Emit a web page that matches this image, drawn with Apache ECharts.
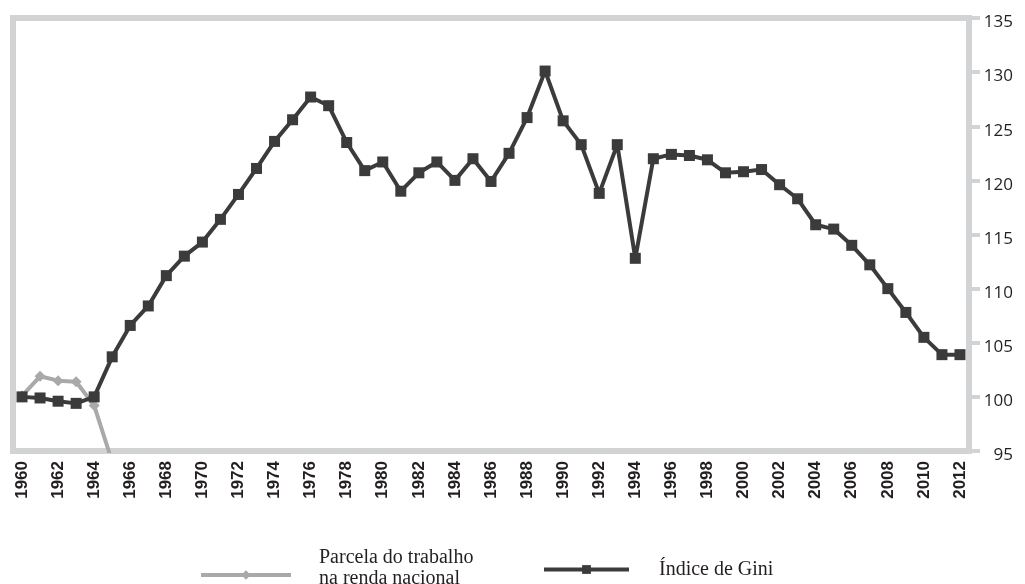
<!DOCTYPE html>
<html lang="pt">

<head>
  <meta charset="UTF-8">
  <title>Gini e parcela do trabalho</title>
  <script src="https://cdn.jsdelivr.net/npm/echarts@6/dist/echarts.min.js"></script>
  <style>
    body { margin: 0; background: #fff; }
  </style>
</head>

<body>
  <div id="main" style="width: 1025px;height:584px;"></div>

  <script type="text/javascript">
    // Years on the x axis
    const years = [];
    for (let y = 1960; y <= 2012; y++) years.push(String(y));

    // Labour share of national income (index, falls off the chart after 1964)
    const laborShare = [100.1, 101.9, 101.5, 101.4, 99.2, 94.0];

    // Gini index (1960 = 100)
    const gini = [
      100.0, 99.9, 99.6, 99.4, 100.0, 103.7, 106.6, 108.4, 111.2, 113.0,
      114.3, 116.4, 118.7, 121.1, 123.6, 125.6, 127.7, 126.9, 123.5, 120.9,
      121.7, 119.0, 120.7, 121.7, 120.0, 122.0, 119.9, 122.5, 125.8, 130.1,
      125.5, 123.3, 118.8, 123.3, 112.8, 122.0, 122.4, 122.3, 121.9, 120.7,
      120.8, 121.0, 119.6, 118.3, 115.9, 115.5, 114.0, 112.2, 110.0, 107.8,
      105.5, 103.9, 103.9
    ];

    const frameGray = '#d1d3d4';
    const darkGray = '#3b3b3b';
    const lightGray = '#a9a9a9';
    const nameShare = 'Parcela do trabalho na renda nacional';
    const nameGini = 'Índice de Gini';

    let myChart = echarts.init(document.getElementById('main'));

    const options = {
      animation: false,
      grid: {
        left: 13, right: 56, top: 18, bottom: 133,
        show: true, borderColor: frameGray, borderWidth: 6
      },
      legend: [{
        left: 194, top: 543,
        data: [nameShare],
        itemWidth: 90, itemHeight: 12,
        lineStyle: { width: 4 },
        // two text lines plus a small empty line so the icon sits lower
        formatter: () => '{a|Parcela do trabalho}\n{a|na renda nacional}\n{b| }',
        textStyle: {
          color: '#231f20', padding: [0, 0, 0, 23],
          rich: {
            a: { fontFamily: 'Liberation Serif', fontSize: 20, lineHeight: 21, color: '#231f20' },
            b: { fontSize: 10, lineHeight: 13 }
          }
        }
      }, {
        left: 537, top: 554,
        data: [nameGini],
        itemWidth: 85, itemHeight: 11,
        lineStyle: { width: 4 },
        textStyle: {
          fontFamily: 'Liberation Serif', fontSize: 20, lineHeight: 21,
          color: '#231f20', padding: [0, 0, 0, 25]
        }
      }],
      xAxis: {
        type: 'category',
        data: years,
        boundaryGap: true,
        axisLine: { show: false },
        axisTick: { show: false },
        axisLabel: {
          interval: 1, rotate: 90, margin: 10,
          fontFamily: 'Liberation Sans, Arial, sans-serif', fontWeight: 'bold', fontSize: 17,
          color: '#231f20'
        },
        splitLine: { show: false }
      },
      yAxis: {
        type: 'value',
        position: 'right',
        min: 95, max: 135, interval: 5,
        axisLine: { show: false },
        axisTick: { show: true, inside: false, length: 11, lineStyle: { color: frameGray, width: 4 } },
        axisLabel: {
          align: 'right', verticalAlign: 'top', lineHeight: 9, margin: 44,
          fontFamily: 'Open Sans, Noto Sans, sans-serif', fontSize: 17, color: '#231f20'
        },
        splitLine: { show: false }
      },
      series: [{
        name: nameShare,
        type: 'line',
        data: laborShare,
        clip: true,
        symbol: 'diamond', symbolSize: 11,
        lineStyle: { color: lightGray, width: 4 },
        itemStyle: { color: lightGray },
        z: 2
      }, {
        name: nameGini,
        type: 'line',
        data: gini,
        clip: true,
        symbol: 'rect', symbolSize: 11,
        lineStyle: { color: darkGray, width: 4 },
        itemStyle: { color: darkGray },
        z: 3
      }]
    };

    myChart.setOption(options);
  </script>
</body>

</html>
